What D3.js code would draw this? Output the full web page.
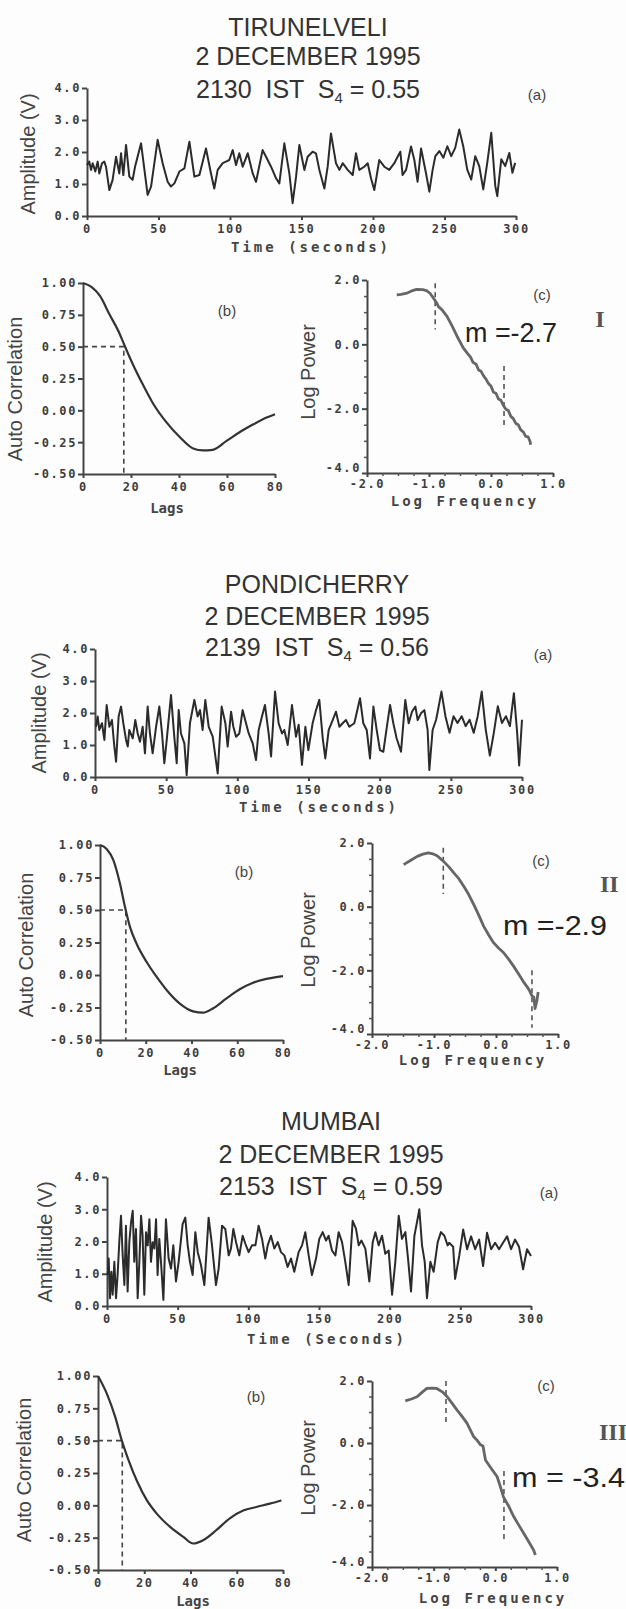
<!DOCTYPE html>
<html>
<head>
<meta charset="utf-8">
<script src="https://cdn.jsdelivr.net/npm/d3@7"></script>
<style>
  body { margin: 0; background: #fff; }
  svg { display: block; background: #fdfdfd; }
  .axis .domain, .axis line { stroke: #444; stroke-width: 2; }
  .axis text { font-family: "DejaVu Sans Mono", monospace; font-weight: bold; font-size: 12px; fill: #3d3d3d; letter-spacing: 1.6px; }
  .minor line { stroke: #555; stroke-width: 1.5; }
  .title { font-family: "Liberation Sans", Arial, sans-serif; font-size: 25px; fill: #333; white-space: pre; }
  .ytitle { font-family: "Liberation Sans", Arial, sans-serif; font-size: 20px; fill: #444; }
  .xtitle { font-family: "DejaVu Sans Mono", monospace; font-weight: bold; font-size: 14px; fill: #444; }
  .tag { font-family: "Liberation Sans", Arial, sans-serif; font-size: 15px; fill: #444; }
  .slope { font-family: "Liberation Sans", Arial, sans-serif; font-size: 28px; fill: #222; white-space: pre; }
  .roman { font-family: "Liberation Serif", "Times New Roman", serif; font-weight: bold; font-size: 24px; fill: #555; }
</style>
</head>
<body>
<svg id="fig" width="626" height="1609"></svg>
<script>
// ---- text
const stations = ['TIRUNELVELI', 'PONDICHERRY', 'MUMBAI'];
const dateLine = '2 DECEMBER 1995';
const istTimes = ['2130', '2139', '2153'];
const s4Values = ['0.55', '0.56', '0.59'];
const slopeLabels = ['m =-2.7', 'm =-2.9', 'm = -3.4'];
const romans = ['I', 'II', 'III'];
const timeTitles = ['Time (seconds)', 'Time (seconds)', 'Time (Seconds)'];

// ---- ticks
const ampTicks = [0, 1, 2, 3, 4];
const timeTicks = [0, 50, 100, 150, 200, 250, 300];
const acfTicks = [-0.5, -0.25, 0, 0.25, 0.5, 0.75, 1];
const lagTicks = [0, 20, 40, 60, 80];
const powerTicks = [-4, -2, 0, 2];
const powerMinor = [-3.5, -3, -2.5, -1.5, -1, -0.5, 0.5, 1, 1.5];
const freqTicks = [-2, -1, 0, 1];
const freqMinor = [-1.75, -1.5, -1.25, -0.75, -0.5, -0.25, 0.25, 0.5, 0.75];

// ---- amplitude records [seconds, volts]
const tirunelveliSignal = [[0,1.59],[1.6,1.70],[2.8,1.44],[4.0,1.65],[5.8,1.39],[7.5,1.70],[8.6,1.33],[10.5,1.65],[12.1,1.70],[13.3,1.54],[15.6,0.81],[17.9,1.13],[20.3,1.85],[22.6,1.33],[23.8,1.96],[25.4,1.28],[27.3,2.22],[29.6,1.23],[31.9,1.13],[33.6,1.54],[37.8,2.27],[42.4,0.66],[44.8,0.92],[49.4,2.38],[52.9,1.65],[56.4,1.07],[58.7,0.92],[61.1,1.02],[64.6,1.39],[68.1,1.49],[71.6,2.32],[75.1,1.23],[78.6,1.28],[83.2,2.11],[86.7,1.33],[89.0,0.86],[91.4,1.44],[94.9,1.65],[97.2,1.70],[99.5,1.75],[101.9,2.06],[104.2,1.59],[106.5,1.96],[108.9,1.54],[112.4,1.96],[115.9,1.33],[118.2,1.07],[122.8,2.06],[125.2,1.85],[128.7,1.54],[132.2,1.18],[134.5,1.02],[138.0,2.27],[141.5,1.33],[143.8,0.40],[146.2,1.23],[148.5,2.22],[152.0,1.44],[154.3,1.85],[157.8,2.01],[160.1,1.96],[162.5,1.44],[166.0,0.86],[168.3,1.54],[170.6,2.58],[174.1,1.65],[176.5,1.44],[178.8,1.65],[182.3,1.44],[185.8,1.28],[188.1,1.96],[190.4,1.44],[193.9,1.54],[196.3,1.65],[198.6,1.18],[200.9,0.81],[204.4,1.75],[207.9,1.54],[211.4,1.44],[214.9,1.65],[217.2,1.85],[219.1,2.01],[220.7,1.28],[223.1,1.44],[226.6,2.17],[228.9,1.75],[231.2,1.07],[233.6,2.11],[237.1,1.33],[239.4,0.76],[241.7,1.44],[243.6,1.87],[246.4,2.03],[249.2,1.82],[252.0,2.18],[254.7,1.87],[257.5,2.13],[260.3,2.70],[263.1,2.18],[265.9,1.45],[268.7,1.14],[271.5,1.87],[274.3,1.56],[277.1,0.83],[279.9,1.66],[282.7,2.60],[285.5,0.94],[286.9,0.62],[289.7,1.77],[292.5,1.56],[295.3,1.97],[297.5,1.35],[299.4,1.66]];

const pondicherrySignal = [[0.7,1.57],[1.9,1.89],[3.0,1.47],[4.9,1.68],[6.6,1.16],[8.2,2.25],[10.1,1.57],[11.9,1.78],[13.6,0.95],[14.8,0.48],[16.6,1.89],[18.3,2.20],[19.9,1.68],[21.8,1.16],[23.0,0.95],[24.1,1.47],[26.5,1.21],[28.3,1.78],[30.0,1.36],[31.6,1.10],[33.5,1.57],[35.1,0.74],[37.0,2.20],[38.6,1.36],[40.5,0.74],[42.9,1.57],[45.2,2.20],[47.1,1.36],[48.7,0.43],[50.4,1.16],[53.4,2.56],[55.7,1.26],[57.4,0.43],[58.8,2.09],[60.4,1.36],[62.8,1.05],[64.4,0.06],[66.7,1.68],[69.8,2.41],[72.1,1.89],[73.8,2.09],[75.6,1.47],[77.5,2.41],[79.9,1.57],[82.7,1.26],[86.2,0.11],[89.0,2.20],[91.6,1.68],[93.2,0.95],[95.6,2.04],[97.2,1.57],[99.1,1.26],[101.4,1.36],[103.7,2.09],[106.1,1.68],[108.0,1.36],[110.8,1.05],[113.1,0.53],[115.0,1.47],[117.3,1.89],[119.4,2.25],[122.0,1.36],[123.7,0.64],[126.5,2.67],[129.0,1.68],[131.4,1.36],[133.0,1.47],[135.4,1.00],[138.4,2.25],[141.2,1.26],[143.1,1.63],[145.4,0.38],[147.8,1.57],[149.9,0.84],[152.9,1.68],[155.3,2.09],[157.6,2.41],[160.0,1.21],[161.8,0.58],[164.2,1.47],[167.0,1.78],[169.3,2.04],[171.7,1.57],[174.0,1.68],[176.3,1.78],[178.7,1.57],[182.2,1.68],[186.2,2.46],[188.5,1.68],[190.9,1.47],[193.2,0.58],[195.6,2.20],[197.9,1.47],[200.2,0.84],[202.6,0.79],[204.9,1.52],[207.3,2.25],[209.6,1.68],[211.9,1.21],[215.0,0.79],[218.0,2.41],[220.4,1.68],[222.7,2.04],[225.1,2.20],[226.7,1.78],[229.0,1.99],[231.4,2.09],[233.7,1.47],[234.9,0.22],[237.2,1.47],[239.6,1.78],[240.6,2.00],[243.4,2.67],[246.2,1.90],[249.1,1.38],[251.9,1.90],[254.7,1.69],[257.6,1.90],[260.4,1.59],[263.2,1.79],[266.1,1.38],[268.9,1.90],[271.7,2.67],[274.5,1.49],[277.4,0.67],[280.2,1.38],[283.0,2.21],[285.9,1.69],[288.7,1.90],[291.5,1.59],[294.3,2.62],[296.6,1.38],[298.0,0.36],[300,1.79]];

const mumbaiSignal = [[0.5,0.96],[1.2,1.47],[2.1,0.24],[3.1,1.06],[4.0,0.35],[5.2,1.37],[6.4,0.24],[7.5,0.96],[8.7,1.98],[9.9,2.80],[11.1,1.57],[12.3,0.65],[13.4,2.49],[14.6,0.45],[15.8,1.98],[17.0,2.59],[18.2,2.95],[19.3,1.37],[20.5,2.39],[21.7,0.24],[22.9,1.37],[24.1,2.80],[25.2,2.18],[26.4,0.35],[27.6,2.29],[28.8,1.88],[30.0,2.69],[31.1,1.37],[32.3,1.98],[33.5,1.78],[34.7,2.69],[35.8,0.96],[37.0,2.08],[38.2,1.37],[39.9,0.19],[41.7,2.69],[43.6,1.47],[45.3,1.16],[46.9,1.88],[48.8,0.76],[50.7,1.37],[53.5,2.54],[55.4,2.74],[57.1,1.88],[58.7,1.37],[60.6,0.96],[62.5,2.29],[64.2,1.67],[66.5,1.27],[68.9,0.65],[71.9,2.74],[74.3,1.88],[77.1,0.65],[79.0,1.16],[81.4,2.49],[83.7,2.39],[86.1,1.57],[87.7,1.78],[89.4,2.39],[91.3,1.98],[93.6,1.57],[96.0,2.18],[97.9,1.93],[100.2,1.67],[102.6,1.88],[105.0,1.88],[107.3,2.49],[109.7,2.08],[112.0,1.47],[113.7,1.88],[116.0,2.18],[118.4,1.78],[120.8,1.98],[123.1,1.67],[125.5,1.57],[127.8,1.21],[130.2,1.47],[132.5,1.06],[135.6,1.67],[138.0,1.88],[140.3,2.29],[142.7,1.57],[145.0,0.96],[147.9,1.47],[150.2,2.08],[152.6,2.29],[155.0,2.03],[156.8,2.18],[159.2,1.72],[161.6,1.57],[163.9,2.29],[166.3,1.98],[168.6,1.37],[171.0,0.65],[173.8,2.64],[176.2,2.39],[178.1,1.88],[180.0,2.03],[182.8,1.78],[185.6,0.76],[188.0,1.98],[189.9,2.29],[192.2,1.88],[194.6,2.18],[196.9,1.62],[199.3,1.72],[201.7,0.35],[204.0,1.37],[206.4,2.80],[208.7,2.08],[211.1,2.29],[213.0,1.47],[215.1,0.45],[217.5,2.18],[219.3,2.59],[221.0,3.00],[222.9,1.88],[224.8,1.37],[226.4,0.24],[228.8,1.37],[231.1,1.06],[234.0,1.98],[236.3,2.29],[238.7,2.18],[241.0,1.88],[242.1,1.96],[244.9,1.84],[246.3,0.84],[249.2,1.55],[252.0,2.37],[254.8,1.76],[257.6,2.16],[260.5,1.76],[263.3,2.06],[266.1,1.24],[268.9,2.27],[271.8,1.76],[274.6,1.96],[277.4,1.76],[280.2,1.96],[283.1,2.16],[285.9,1.76],[288.7,2.06],[291.5,1.84],[294.4,1.14],[297.2,1.76],[300,1.55]];

// ---- autocorrelation [lag, r]
const tirunelveliAcf = [[0,1.0],[3.5,0.97],[7,0.90],[11,0.755],[15.3,0.60],[17.4,0.505],[20.9,0.356],[25,0.20],[29,0.06],[34.8,-0.095],[40.3,-0.21],[45.9,-0.30],[50,-0.315],[54,-0.31],[59.8,-0.24],[65.4,-0.17],[71,-0.11],[76.5,-0.057],[80,-0.03]];
const pondicherryAcf = [[0,1.0],[2.9,0.97],[5.8,0.885],[8.7,0.705],[10.9,0.525],[13.1,0.37],[16,0.24],[20.4,0.10],[24.7,-0.013],[29.1,-0.115],[34.9,-0.22],[40.7,-0.28],[45.1,-0.29],[49.5,-0.256],[55.3,-0.18],[61.1,-0.11],[66.9,-0.06],[72.7,-0.03],[80,-0.008]];
const mumbaiAcf = [[0,1.0],[3.9,0.86],[7.5,0.68],[10.3,0.50],[13.2,0.35],[16.8,0.19],[21.1,0.04],[25.4,-0.064],[31.2,-0.167],[36.9,-0.244],[41.2,-0.295],[45.5,-0.27],[51.3,-0.19],[57,-0.10],[62.8,-0.04],[68.5,-0.013],[74.3,0.013],[79.3,0.038]];
const halfLags = [17, 11.3, 10.5];

// ---- power spectra [log f, log P]
const tirunelveliPsd = [[-1.52,1.54],[-1.45,1.55],[-1.36,1.59],[-1.28,1.66],[-1.20,1.71],[-1.10,1.70],[-1.04,1.67],[-0.98,1.58],[-0.93,1.44],[-0.88,1.30],[-0.85,1.18],[-0.78,1.05],[-0.71,0.87],[-0.63,0.58],[-0.55,0.26],[-0.50,0.08],[-0.45,-0.10],[-0.38,-0.28],[-0.33,-0.40],[-0.29,-0.56],[-0.24,-0.62],[-0.20,-0.80],[-0.16,-0.84],[-0.12,-0.98],[-0.08,-1.08],[-0.04,-1.22],[0.00,-1.30],[0.04,-1.49],[0.08,-1.52],[0.12,-1.70],[0.16,-1.74],[0.20,-1.90],[0.24,-2.02],[0.28,-2.06],[0.32,-2.24],[0.36,-2.31],[0.40,-2.46],[0.44,-2.50],[0.48,-2.66],[0.52,-2.72],[0.56,-2.86],[0.60,-2.88],[0.63,-3.02],[0.64,-3.12]];
const pondicherryPsd = [[-1.49,1.32],[-1.38,1.45],[-1.27,1.58],[-1.18,1.65],[-1.09,1.69],[-1.02,1.66],[-0.95,1.60],[-0.85,1.43],[-0.76,1.25],[-0.68,1.06],[-0.60,0.88],[-0.52,0.64],[-0.44,0.38],[-0.36,0.07],[-0.28,-0.26],[-0.20,-0.61],[-0.12,-0.88],[-0.04,-1.13],[0.04,-1.30],[0.12,-1.44],[0.20,-1.64],[0.28,-1.86],[0.36,-2.10],[0.45,-2.38],[0.53,-2.60],[0.58,-2.80],[0.61,-2.84],[0.63,-3.20],[0.66,-2.95],[0.68,-2.68]];
const mumbaiPsd = [[-1.46,1.36],[-1.36,1.42],[-1.27,1.49],[-1.18,1.65],[-1.11,1.76],[-1.02,1.77],[-0.95,1.76],[-0.86,1.65],[-0.78,1.49],[-0.70,1.28],[-0.62,1.06],[-0.54,0.86],[-0.46,0.64],[-0.40,0.40],[-0.35,0.20],[-0.30,0.10],[-0.24,-0.06],[-0.20,-0.10],[-0.16,-0.55],[-0.08,-0.78],[0.03,-1.09],[0.08,-1.40],[0.13,-1.73],[0.22,-2.05],[0.30,-2.38],[0.38,-2.65],[0.46,-2.91],[0.54,-3.18],[0.62,-3.45],[0.65,-3.61]];
// fit-range markers: [log f, top, bottom]
const fitMarks = [
  [[-0.90, 1.9, 0.46], [0.21, -0.67, -2.51]],
  [[-0.85, 1.85, 0.40], [0.58, -2.0, -3.8]],
  [[-0.80, 2.0, 0.60], [0.14, -0.9, -3.1]]
];

const signals = [tirunelveliSignal, pondicherrySignal, mumbaiSignal];
const acfs = [tirunelveliAcf, pondicherryAcf, mumbaiAcf];
const psds = [tirunelveliPsd, pondicherryPsd, mumbaiPsd];

// ---- page layout, one entry per station
const rows = [
  { titleX: 308, titleY: [36, 65, 98],
    a: { x: [87, 516], y: [216, 88] }, aTag: [537, 100], ampTitle: [30, 154], timeTitle: [311, 252],
    b: { x: [83, 275], y: [474, 283] }, bTag: [227, 316], acfTitle: [17, 389], lagTitle: [167, 513],
    c: { x: [367, 553], y: [473, 280] }, cTag: [542, 300], powTitle: [310, 372], freqTitle: [465, 506],
    slope: [465, 342, 92], roman: [600, 327, 'middle'] },
  { titleX: 317, titleY: [593, 625, 656],
    a: { x: [95, 522], y: [777, 649] }, aTag: [543, 660], ampTitle: [41, 713], timeTitle: [319, 812],
    b: { x: [100, 283], y: [1040, 845] }, bTag: [244, 877], acfTitle: [28, 945], lagTitle: [180, 1075],
    c: { x: [372, 558], y: [1034, 843] }, cTag: [541, 866], powTitle: [310, 940], freqTitle: [473, 1065],
    slope: [503, 935, 104], roman: [600, 892, 'start'] },
  { titleX: 331, titleY: [1130, 1163, 1195],
    a: { x: [107, 531], y: [1306, 1177] }, aTag: [549, 1198], ampTitle: [47, 1242], timeTitle: [327, 1344],
    b: { x: [98, 283], y: [1570, 1376] }, bTag: [256, 1402], acfTitle: [26, 1470], lagTitle: [193, 1606],
    c: { x: [372, 557], y: [1567, 1381] }, cTag: [546, 1391], powTitle: [310, 1468], freqTitle: [493, 1603],
    slope: [512, 1487, 113], roman: [599, 1440, 'start'] }
];

const svg = d3.select('#fig');

const addAxes = (g, x, y, opt) => {
  const xBase = x.range()[0];
  const yBase = y.range()[0];
  g.append('g')
    .attr('class', 'axis')
    .attr('transform', `translate(0,${yBase})`)
    .call(d3.axisBottom(x).tickValues(opt.xTicks).tickFormat(opt.xFmt)
      .tickSize(4).tickSizeOuter(0).tickPadding(opt.xPad));
  const yAxis = g.append('g')
    .attr('class', 'axis')
    .attr('transform', `translate(${xBase},0)`)
    .call(d3.axisLeft(y).tickValues(opt.yTicks).tickFormat(opt.yFmt)
      .tickSize(5).tickSizeOuter(0).tickPadding(1));
  // lift the lowest y label clear of the first x label
  yAxis.selectAll('.tick text')
    .filter((d) => d === y.domain()[0])
    .attr('y', -opt.yLift);
  if (opt.xMinor) {
    g.append('g')
      .attr('class', 'minor')
      .attr('transform', `translate(0,${yBase})`)
      .call(d3.axisBottom(x).tickValues(opt.xMinor).tickFormat('').tickSize(3).tickSizeOuter(0))
      .call((s) => s.select('.domain').remove());
  }
  if (opt.yMinor) {
    g.append('g')
      .attr('class', 'minor')
      .attr('transform', `translate(${xBase},0)`)
      .call(d3.axisLeft(y).tickValues(opt.yMinor).tickFormat('').tickSize(3).tickSizeOuter(0))
      .call((s) => s.select('.domain').remove());
  }
};

const addText = (cls, [x, y], text, anchor = 'middle') => svg.append('text')
  .attr('class', cls)
  .attr('x', x)
  .attr('y', y)
  .attr('text-anchor', anchor)
  .text(text);

const addYTitle = ([x, y], text) => svg.append('text')
  .attr('class', 'ytitle')
  .attr('text-anchor', 'middle')
  .attr('dominant-baseline', 'middle')
  .attr('transform', `translate(${x},${y}) rotate(-90)`)
  .text(text);

rows.forEach((row, i) => {
  // titles
  addText('title', [row.titleX, row.titleY[0]], stations[i]);
  addText('title', [row.titleX, row.titleY[1]], dateLine);
  const t = addText('title', [row.titleX, row.titleY[2]], '');
  t.append('tspan').text(`${istTimes[i]}  IST  S`);
  t.append('tspan').attr('font-size', 15).attr('dy', 5).text('4');
  t.append('tspan').attr('dy', -5).text(` = ${s4Values[i]}`);

  // (a) amplitude record
  const gA = svg.append('g');
  const xA = d3.scaleLinear().domain([0, 300]).range(row.a.x);
  const yA = d3.scaleLinear().domain([0, 4]).range(row.a.y);
  addAxes(gA, xA, yA, {
    xTicks: timeTicks, xFmt: (d) => d, xPad: 4,
    yTicks: ampTicks, yFmt: (d) => d.toFixed(1), yLift: 0,
  });
  gA.append('path')
    .datum(signals[i])
    .attr('fill', 'none')
    .attr('stroke', '#2b2b2b')
    .attr('stroke-width', 2)
    .attr('stroke-linejoin', 'round')
    .attr('d', d3.line().x((d) => xA(d[0])).y((d) => yA(d[1])));
  addText('tag', row.aTag, '(a)');
  addYTitle(row.ampTitle, 'Amplitude (V)');
  addText('xtitle', row.timeTitle, timeTitles[i]).style('letter-spacing', '3px');

  // (b) autocorrelation
  const gB = svg.append('g');
  const xB = d3.scaleLinear().domain([0, 80]).range(row.b.x);
  const yB = d3.scaleLinear().domain([-0.5, 1]).range(row.b.y);
  addAxes(gB, xB, yB, {
    xTicks: lagTicks, xFmt: (d) => d, xPad: 4,
    yTicks: acfTicks, yFmt: (d) => d.toFixed(2), yLift: 0,
  });
  gB.append('path')
    .datum([[0, 0.5], [halfLags[i], 0.5], [halfLags[i], -0.5]])
    .attr('fill', 'none')
    .attr('stroke', '#444')
    .attr('stroke-width', 1.6)
    .attr('stroke-dasharray', '5,4')
    .attr('d', d3.line().x((d) => xB(d[0])).y((d) => yB(d[1])));
  gB.append('path')
    .datum(acfs[i])
    .attr('fill', 'none')
    .attr('stroke', '#333')
    .attr('stroke-width', 2.2)
    .attr('d', d3.line().curve(d3.curveMonotoneX).x((d) => xB(d[0])).y((d) => yB(d[1])));
  addText('tag', row.bTag, '(b)');
  addYTitle(row.acfTitle, 'Auto Correlation');
  addText('xtitle', row.lagTitle, 'Lags').style('font-size', '14px');

  // (c) power spectrum
  const gC = svg.append('g');
  const xC = d3.scaleLinear().domain([-2, 1]).range(row.c.x);
  const yC = d3.scaleLinear().domain([-4, 2]).range(row.c.y);
  addAxes(gC, xC, yC, {
    xTicks: freqTicks, xFmt: (d) => d.toFixed(1), xPad: 2, xMinor: freqMinor,
    yTicks: powerTicks, yFmt: (d) => d.toFixed(1), yMinor: powerMinor, yLift: 5,
  });
  gC.selectAll('path.fit')
    .data(fitMarks[i])
    .join('path')
    .attr('class', 'fit')
    .attr('fill', 'none')
    .attr('stroke', '#555')
    .attr('stroke-width', 1.6)
    .attr('stroke-dasharray', '5,4')
    .attr('d', (d) => d3.line()([[xC(d[0]), yC(d[1])], [xC(d[0]), yC(d[2])]]));
  gC.append('path')
    .datum(psds[i])
    .attr('fill', 'none')
    .attr('stroke', '#666')
    .attr('stroke-width', 2.8)
    .attr('stroke-linejoin', 'round')
    .attr('d', d3.line().x((d) => xC(d[0])).y((d) => yC(d[1])));
  addText('tag', row.cTag, '(c)');
  addYTitle(row.powTitle, 'Log Power');
  addText('xtitle', row.freqTitle, 'Log Frequency').style('letter-spacing', '3px');

  addText('slope', row.slope, slopeLabels[i], 'start')
    .attr('textLength', row.slope[2])
    .attr('lengthAdjust', 'spacingAndGlyphs');
  addText('roman', row.roman, romans[i], row.roman[2]);
});
</script>
</body>
</html>
